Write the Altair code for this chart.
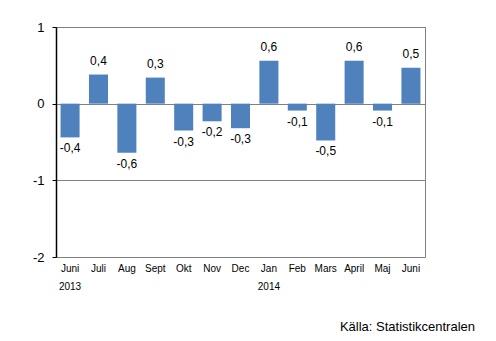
import json
import altair as alt
import pandas as pd

months = ["Juni", "Juli", "Aug", "Sept", "Okt", "Nov", "Dec", "Jan", "Feb", "Mars", "April", "Maj", "Juni"]
values = [-0.44, 0.38, -0.64, 0.34, -0.35, -0.23, -0.32, 0.56, -0.09, -0.48, 0.56, -0.09, 0.47]
labels = ["-0,4", "0,4", "-0,6", "0,3", "-0,3", "-0,2", "-0,3", "0,6", "-0,1", "-0,5", "0,6", "-0,1", "0,5"]
year_idx = [0, 7]
year_labels = ["2013", "2014"]
source = "Källa: Statistikcentralen"

df = pd.DataFrame({"idx": list(range(len(months))), "value": values, "label": labels})
years = pd.DataFrame({"idx": year_idx, "year": year_labels})

FONT = "Liberation Sans"
label_expr = json.dumps(months) + "[datum.value]"

x = alt.X("idx:O", scale=alt.Scale(paddingInner=0.33, paddingOuter=0.16),
          axis=alt.Axis(title=None, labelAngle=0, ticks=False, domain=False,
                        labelExpr=label_expr, labelFontSize=10, labelFont=FONT,
                        labelColor="#000000", labelPadding=6))
y_scale = alt.Scale(domain=[-2, 1], nice=False, zero=False)

bars = alt.Chart(df).mark_bar(color="#4F81BD").encode(
    x=x,
    y=alt.Y("value:Q", scale=y_scale,
            axis=alt.Axis(title=None, values=[-2, -1, 0, 1], labelExpr="datum.value + ''",
                          domainColor="#000000", domainWidth=1.5, tickColor="#000000",
                          tickSize=4, gridColor="#808080", gridWidth=1,
                          labelFontSize=13, labelFont=FONT, labelColor="#000000",
                          labelPadding=8)),
    y2=alt.datum(0),
)

pos = alt.Chart(df).transform_filter("datum.value >= 0").mark_text(
    baseline="bottom", dy=-7, fontSize=12, font=FONT, color="#000000"
).encode(x="idx:O", y=alt.Y("value:Q", scale=y_scale), text="label:N")

neg = alt.Chart(df).transform_filter("datum.value < 0").mark_text(
    baseline="top", dy=6, fontSize=12, font=FONT, color="#000000"
).encode(x="idx:O", y=alt.Y("value:Q", scale=y_scale), text="label:N")

yr = alt.Chart(years).mark_text(fontSize=10, font=FONT, color="#000000", baseline="middle").encode(
    x="idx:O", y=alt.value(260), text="year:N"
)

src = alt.Chart(pd.DataFrame({"t": [source]})).mark_text(
    fontSize=13, font=FONT, color="#000000", align="right", baseline="middle"
).encode(x=alt.value(419), y=alt.value(300), text="t:N")

chart = alt.layer(bars, pos, neg, yr, src).properties(
    width=369, height=230,
    autosize=alt.AutoSizeParams(type="none"),
    padding={"left": 56, "top": 27, "right": 71, "bottom": 84},
    background="#ffffff",
).configure_view(stroke="#808080", strokeWidth=1)

chart.save("out.html", embed_options={"renderer": "svg", "actions": False})
